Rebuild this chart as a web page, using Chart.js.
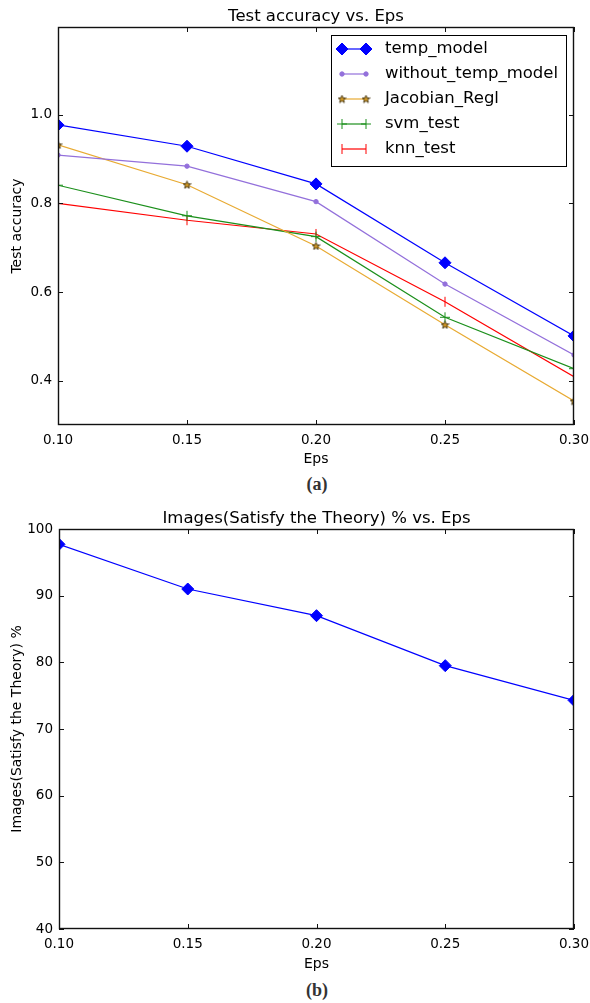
<!DOCTYPE html>
<html>
<head>
<meta charset="utf-8">
<script src="https://cdn.jsdelivr.net/npm/chart.js@4.4.0/dist/chart.umd.min.js"></script>
<style>
  body { margin: 0; background: #fff; width: 590px; height: 1003px; position: relative; overflow: hidden; }
  .wrap { position: absolute; left: 0; width: 590px; }
  .cap { position: absolute; left: 0; width: 634px; text-align: center; font-family: 'Liberation Serif', serif; font-weight: bold; font-size: 18px; color: #333; }
</style>
</head>
<body>
<div class="wrap" style="top:0;height:470px"><canvas id="chart-acc" width="590" height="470"></canvas></div>
<div class="cap" style="top:474px">(a)</div>
<div class="wrap" style="top:495px;height:480px"><canvas id="chart-img" width="590" height="480"></canvas></div>
<div class="cap" style="top:980px">(b)</div>
<script>
// valores
const eps = [0.10, 0.15, 0.20, 0.25, 0.30];
const xTicks = [0.10, 0.15, 0.20, 0.25, 0.30];
const accTicks = [0.4, 0.6, 0.8, 1.0];
const pctTicks = [40, 50, 60, 70, 80, 90, 100];

const tempModel = [0.977, 0.929, 0.844, 0.666, 0.501];
const withoutTemp = [0.909, 0.884, 0.804, 0.618, 0.458];
const jacobianRegl = [0.932, 0.842, 0.704, 0.526, 0.354];
const svmTest = [0.841, 0.772, 0.725, 0.543, 0.427];
const knnTest = [0.800, 0.762, 0.731, 0.578, 0.409];
const imagesPct = [97.7, 91.0, 87.0, 79.5, 74.3];

const FONT = "'DejaVu Sans', sans-serif";
Chart.defaults.font.family = FONT;
Chart.defaults.color = '#000';

function pts(ys) {
    return eps.map((x, i) => ({ x: x, y: ys[i] }));
}

// estrella rellena tipo matplotlib '*'
function starMarker() {
    const c = document.createElement('canvas');
    c.width = 9; c.height = 9;
    const g = c.getContext('2d');
    g.beginPath();
    for (let i = 0; i < 10; i++) {
        const r = i % 2 ? 1.7 : 4;
        const a = -Math.PI / 2 + i * Math.PI / 5;
        g.lineTo(4.5 + r * Math.cos(a), 4.8 + r * Math.sin(a));
    }
    g.closePath();
    g.fillStyle = '#d39a25';
    g.fill();
    g.strokeStyle = '#3b2a05';
    g.lineWidth = 0.9;
    g.stroke();
    return c;
}
const star = starMarker();

// titulo centrado sobre el area del grafico (como matplotlib)
const plotTitle = {
    id: 'plotTitle',
    afterDraw(chart, args, opts) {
        const { ctx, chartArea: a } = chart;
        ctx.save();
        ctx.font = '16.5px ' + FONT;
        ctx.fillStyle = '#000';
        ctx.textAlign = 'center';
        ctx.textBaseline = 'alphabetic';
        ctx.fillText(opts.text, (a.left + a.right) / 2, a.top - opts.gap);
        ctx.restore();
    }
};

// marco y marcas hacia dentro en los cuatro lados
const frame = {
    id: 'frame',
    afterDatasetsDraw(chart) {
        const { ctx, chartArea: a, scales } = chart;
        ctx.save();
        ctx.strokeStyle = '#111';
        ctx.lineWidth = 1.4;
        ctx.strokeRect(a.left + 0.5, a.top + 0.5, a.width - 1, a.height - 1);
        ctx.lineWidth = 1;
        ctx.beginPath();
        scales.x.ticks.forEach(t => {
            const px = Math.round(scales.x.getPixelForValue(t.value)) + 0.5;
            ctx.moveTo(px, a.bottom); ctx.lineTo(px, a.bottom - 5);
            ctx.moveTo(px, a.top); ctx.lineTo(px, a.top + 5);
        });
        scales.y.ticks.forEach(t => {
            const py = Math.round(scales.y.getPixelForValue(t.value)) + 0.5;
            ctx.moveTo(a.left, py); ctx.lineTo(a.left + 5, py);
            ctx.moveTo(a.right, py); ctx.lineTo(a.right - 5, py);
        });
        ctx.stroke();
        ctx.restore();
    }
};

// leyenda con caja, linea y dos marcadores
const boxLegend = {
    id: 'boxLegend',
    afterDraw(chart) {
        const { ctx, chartArea: a } = chart;
        const sets = chart.data.datasets;
        ctx.save();
        ctx.font = '16.5px ' + FONT;
        const textW = Math.max(...sets.map(d => ctx.measureText(d.label).width));
        const right = a.right - 8, top = a.top + 8;
        const left = Math.round(right - (54 + textW + 8));
        const rowH = 25;
        const bottom = top + 14 + rowH * (sets.length - 1) + 17;
        ctx.fillStyle = '#fff';
        ctx.fillRect(left, top, right - left, bottom - top);
        ctx.strokeStyle = '#000';
        ctx.lineWidth = 1;
        ctx.strokeRect(left + 0.5, top + 0.5, right - left, bottom - top);
        sets.forEach((d, i) => {
            const y = top + 14 + rowH * i;
            const x1 = left + 11, x2 = left + 35;
            ctx.strokeStyle = d.borderColor;
            ctx.lineWidth = d.borderWidth;
            ctx.beginPath(); ctx.moveTo(x1, y); ctx.lineTo(x2, y); ctx.stroke();
            const opts = { pointStyle: d.pointStyle, radius: d.pointRadius, rotation: d.pointRotation || 0, borderWidth: d.pointBorderWidth };
            [x1, x2].forEach(x => {
                ctx.fillStyle = d.pointBackgroundColor;
                ctx.strokeStyle = d.pointBorderColor;
                ctx.lineWidth = d.pointBorderWidth;
                Chart.helpers.drawPoint(ctx, opts, x, y);
            });
            ctx.fillStyle = '#000';
            ctx.textBaseline = 'middle';
            ctx.textAlign = 'left';
            ctx.fillText(d.label, left + 54, y);
        });
        ctx.restore();
    }
};

function lineSet(label, ys, color, extra) {
    return Object.assign({
        label: label,
        data: pts(ys),
        borderColor: color,
        borderWidth: 1.2,
        tension: 0,
        fill: false,
        clip: 0,
        pointBackgroundColor: color,
        pointBorderColor: color,
        pointBorderWidth: 1,
    }, extra);
}

function makeOptions(cfg) {
    return {
        responsive: false,
        animation: false,
        devicePixelRatio: 1,
        layout: { padding: { top: cfg.top, right: 16, bottom: 0, left: 0 } },
        plugins: {
            legend: { display: false },
            tooltip: { enabled: false },
            title: { display: false },
            plotTitle: { text: cfg.title, gap: 6 },
        },
        scales: {
            x: {
                type: 'linear',
                min: 0.1,
                max: 0.3,
                grid: { display: false, drawTicks: false },
                border: { display: false },
                afterBuildTicks: s => { s.ticks = xTicks.map(v => ({ value: v })); },
                afterFit: s => { s.height = cfg.xHeight; s.paddingLeft = 0; s.paddingRight = 0; },
                ticks: { padding: 7, autoSkip: false, maxRotation: 0, font: { size: 13.5 }, color: '#000', callback: v => Number(v).toFixed(2) },
                title: { display: true, text: 'Eps', color: '#000', font: { size: 14 }, padding: { top: 0, bottom: 2 } },
            },
            y: {
                type: 'linear',
                min: cfg.yMin,
                max: cfg.yMax,
                grid: { display: false, drawTicks: false },
                border: { display: false },
                afterBuildTicks: s => { s.ticks = cfg.yTicks.map(v => ({ value: v })); },
                afterFit: s => { s.width = cfg.yWidth; },
                ticks: { padding: 6, font: { size: 13.5 }, color: '#000', callback: cfg.yFmt },
                title: { display: true, text: cfg.yTitle, color: '#000', font: { size: 14 }, padding: { top: 9, bottom: 0 } },
            },
        },
    };
}

const chartAcc = new Chart(document.getElementById('chart-acc'), {
    type: 'line',
    data: {
        datasets: [
            lineSet('temp_model', tempModel, '#0000ff', { pointStyle: 'rectRot', pointRadius: 6 }),
            lineSet('without_temp_model', withoutTemp, '#9370db', { pointStyle: 'circle', pointRadius: 2.2 }),
            lineSet('Jacobian_Regl', jacobianRegl, '#e8aa32', { pointStyle: star, pointRadius: 4 }),
            lineSet('svm_test', svmTest, '#1b8f1b', { pointStyle: 'cross', pointRadius: 5 }),
            lineSet('knn_test', knnTest, '#ff0000', { pointStyle: 'line', pointRotation: 90, pointRadius: 5 }),
        ],
    },
    options: makeOptions({
        title: 'Test accuracy vs. Eps',
        top: 27,
        xHeight: 45,
        yWidth: 58,
        yMin: 0.3,
        yMax: 1.198,
        yTicks: accTicks,
        yFmt: v => Number(v).toFixed(1),
        yTitle: 'Test accuracy',
    }),
    plugins: [frame, boxLegend, plotTitle],
});

const chartImg = new Chart(document.getElementById('chart-img'), {
    type: 'line',
    data: {
        datasets: [
            lineSet('images', imagesPct, '#0000ff', { pointStyle: 'rectRot', pointRadius: 6 }),
        ],
    },
    options: makeOptions({
        title: 'Images(Satisfy the Theory) % vs. Eps',
        top: 34,
        xHeight: 46,
        yWidth: 59,
        yMin: 40,
        yMax: 100,
        yTicks: pctTicks,
        yFmt: v => String(v),
        yTitle: 'Images(Satisfy the Theory) %',
    }),
    plugins: [frame, plotTitle],
});
</script>
</body>
</html>
